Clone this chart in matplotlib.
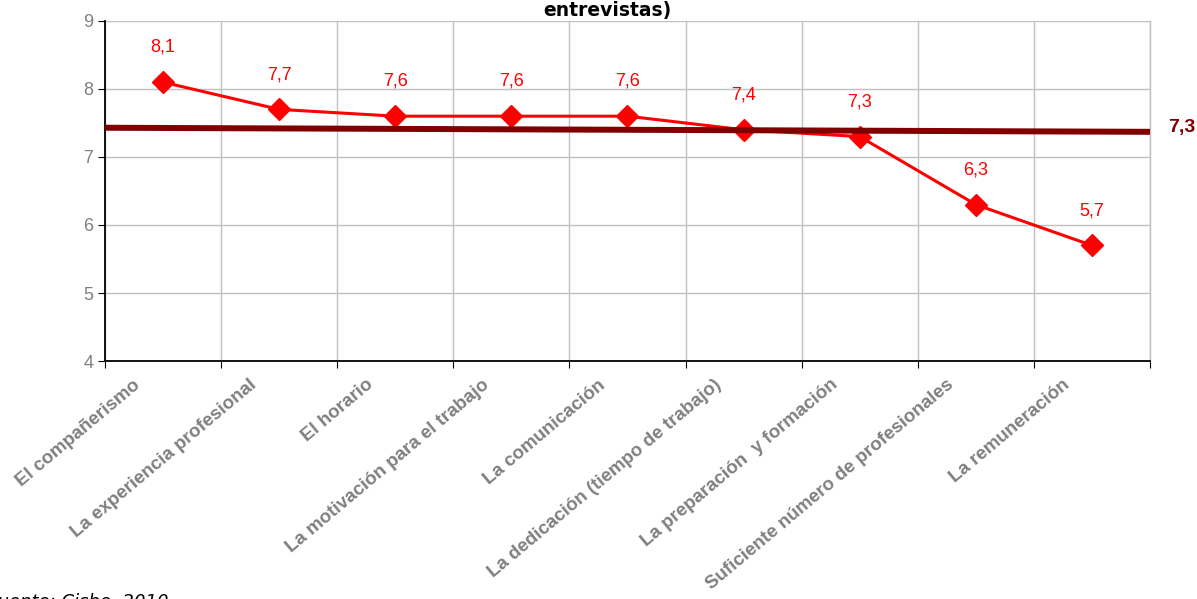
import numpy as np
import matplotlib.pyplot as plt
from matplotlib.transforms import ScaledTranslation

categorias = ['El compañerismo', 'La experiencia profesional', 'El horario',
              'La motivación para el trabajo', 'La comunicación',
              'La dedicación (tiempo de trabajo)', 'La preparación  y formación',
              'Suficiente número de profesionales', 'La remuneración']
valores = [8.1, 7.7, 7.6, 7.6, 7.6, 7.4, 7.3, 6.3, 5.7]
etiquetas = ['8,1', '7,7', '7,6', '7,6', '7,6', '7,4', '7,3', '6,3', '5,7']
media_ini, media_fin = 7.43, 7.37
media_txt = '7,3'

fig = plt.figure(figsize=(11.97, 5.99), dpi=100)
ax = fig.add_axes([0.0877, 0.3973, 0.873, 0.5677])

n = len(categorias)
x = np.arange(n) + 0.5

ax.plot(x, valores, color='#ff0000', lw=2.2, marker='D', ms=11.5, zorder=3)
for xi, v, t in zip(x, valores, etiquetas):
    ax.annotate(t, (xi, v), xytext=(0, 25), textcoords='offset points',
                ha='center', va='center', color='#ff0000', fontsize=13,
                family='Liberation Sans')

# linea de la media
ax.plot([0, n], [media_ini, media_fin], color='#800000', lw=4.3, zorder=4,
        solid_capstyle='butt', clip_on=False)
ax.annotate(media_txt, (n, media_fin), xytext=(13, 3), textcoords='offset points',
            ha='left', va='center', color='#800000', fontsize=14,
            fontweight='bold', family='Liberation Sans', annotation_clip=False)

ax.set_xlim(0, n)
ax.set_ylim(4, 9)
ax.set_yticks(range(4, 10))
ax.set_xticks(np.arange(n + 1))
ax.set_xticklabels([])
ax.set_xticks(x, minor=True)
ax.set_xticklabels(categorias, minor=True, rotation=40, ha='right', va='top',
                   rotation_mode='anchor', color='#808080', fontsize=13.5,
                   fontweight='bold', family='Liberation Sans')
ax.tick_params(axis='x', which='minor', length=0, pad=11)
ax.tick_params(axis='both', which='major', length=5, direction='out', color='black')
for lab in ax.get_xticklabels(minor=True):
    lab.set_transform(lab.get_transform() + ScaledTranslation(-0.3, 0, fig.dpi_scale_trans))
for lab in ax.get_yticklabels():
    lab.set_color('#808080')
    lab.set_fontsize(13)
    lab.set_family('Liberation Sans')

ax.grid(True, which='major', color='#c0c0c0', lw=1)
ax.set_axisbelow(True)
ax.spines['top'].set_visible(False)
ax.spines['right'].set_color('#c0c0c0')
ax.spines['right'].set_linewidth(1)
ax.spines['left'].set_linewidth(1.3)
ax.spines['bottom'].set_linewidth(1.3)

fig.text(0.507, 0.999, 'entrevistas)', ha='center', va='top', fontsize=13.5,
         fontweight='bold', family='DejaVu Sans')
fig.text(-0.01, -0.02, 'Fuente: Cisbe, 2010', ha='left', va='bottom',
         fontsize=13, style='italic', family='DejaVu Sans')

fig.savefig('out.png', dpi=100)
